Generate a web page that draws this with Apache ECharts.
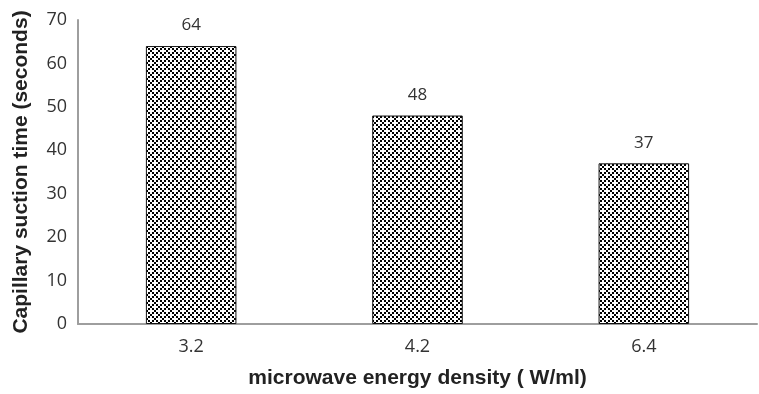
<!DOCTYPE html>
<html>
<head>
<meta charset="utf-8">
<script src="https://cdn.jsdelivr.net/npm/echarts@6/dist/echarts.min.js"></script>
<style>
  html, body { margin: 0; padding: 0; background: #fff; }
  #chart { width: 759px; height: 394px; }
</style>
</head>
<body>
<div id="chart"></div>
<script>
// Chart data
const categories = ['3.2', '4.2', '6.4'];
const cstValues = [64, 48, 37];
const yTicks = { min: 0, max: 70, interval: 10 };

// Checkered fill: 8x8 tile of 2px cells, dark squares around white crosses
function makePattern() {
  const c = document.createElement('canvas');
  c.width = 8; c.height = 8;
  const ctx = c.getContext('2d');
  ctx.fillStyle = '#ffffff';
  ctx.fillRect(0, 0, 8, 8);
  ctx.fillStyle = '#000000';
  const dark = [[0, 0], [2, 0], [3, 1], [0, 2], [2, 2], [1, 3]];
  dark.forEach(([cx, cy]) => ctx.fillRect(cx * 2, cy * 2, 2, 2));
  return c;
}

const chart = echarts.init(document.getElementById('chart'), null, { renderer: 'canvas' });
const labelFont = '"Open Sans", "Liberation Sans", sans-serif';
const titleFont = '"Liberation Sans", Arial, sans-serif';

chart.setOption({
  animation: false,
  grid: { left: 78, right: 2, top: 20, bottom: 66, containLabel: false },
  xAxis: {
    type: 'category',
    data: categories,
    name: 'microwave energy density ( W/ml)',
    nameLocation: 'middle',
    nameGap: 44,
    nameTextStyle: { fontFamily: titleFont, fontWeight: 'bold', fontSize: 21, color: '#222' },
    axisLine: { lineStyle: { color: '#9e9e9e', width: 2 } },
    axisTick: { show: false },
    axisLabel: { fontFamily: labelFont, fontSize: 18, color: '#333', margin: 14 }
  },
  yAxis: {
    type: 'value',
    min: yTicks.min,
    max: yTicks.max,
    interval: yTicks.interval,
    name: 'Capillary suction time (seconds)',
    nameLocation: 'middle',
    nameGap: 46,
    nameTextStyle: { fontFamily: titleFont, fontWeight: 'bold', fontSize: 21, color: '#222' },
    axisLine: { show: true, lineStyle: { color: '#9e9e9e', width: 2 } },
    axisTick: { show: false },
    splitLine: { show: false },
    axisLabel: { fontFamily: labelFont, fontSize: 18, color: '#333', margin: 11 }
  },
  series: [{
    type: 'bar',
    data: cstValues,
    barWidth: '40%',
    itemStyle: {
      color: { image: makePattern(), repeat: 'repeat' },
      borderColor: '#111',
      borderWidth: 1
    },
    label: {
      show: true,
      position: 'top',
      distance: 12,
      fontFamily: labelFont,
      fontSize: 17,
      color: '#333'
    }
  }]
});
</script>
</body>
</html>
